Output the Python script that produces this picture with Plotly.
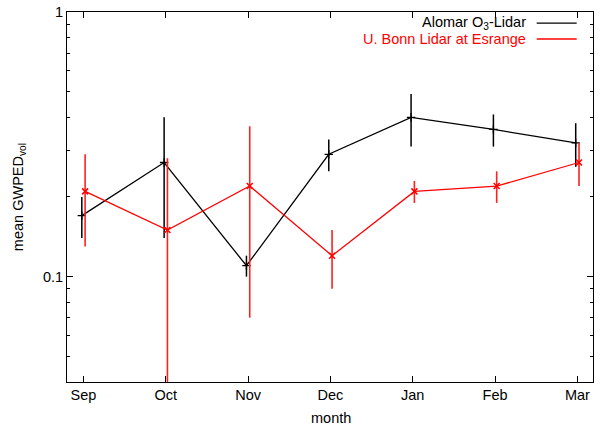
import plotly.graph_objects as go

months = ["Sep", "Oct", "Nov", "Dec", "Jan", "Feb", "Mar"]
month_idx = [0, 1, 2, 3, 4, 5, 6]

alomar_vals = [0.17, 0.27, 0.11, 0.29, 0.40, 0.36, 0.32]
alomar_err = [0.03, 0.13, 0.01, 0.04, 0.09, 0.05, 0.06]

bonn_vals = [0.21, 0.15, 0.22, 0.12, 0.21, 0.22, 0.27]
bonn_err = [0.08, 0.13, 0.15, 0.03, 0.02, 0.03, 0.05]

alomar_shift = -0.02
bonn_shift = 0.02

y_major = [0.1, 1]
y_minor = [0.05, 0.06, 0.07, 0.08, 0.09, 0.2, 0.3, 0.4, 0.5, 0.6, 0.7, 0.8, 0.9]

FONT = "Liberation Sans, Arial, Helvetica, sans-serif"
FS = 14.5

fig = go.Figure()

fig.add_trace(go.Scatter(
    x=[m + alomar_shift for m in month_idx], y=alomar_vals,
    mode="lines+markers", name="Alomar O<sub>3</sub>-Lidar",
    line=dict(color="black", width=1.3),
    marker=dict(symbol="cross-thin", size=6, line=dict(color="black", width=1.3)),
    error_y=dict(type="data", array=alomar_err, color="black", thickness=1.5, width=0),
    showlegend=False,
))
fig.add_trace(go.Scatter(
    x=[m + bonn_shift for m in month_idx], y=bonn_vals,
    mode="lines+markers", name="U. Bonn Lidar at Esrange",
    line=dict(color="#ff0000", width=1.3),
    marker=dict(symbol="x-thin", size=6, line=dict(color="#ff0000", width=1.5)),
    error_y=dict(type="data", array=bonn_err, color="#ff2020", thickness=1.6, width=0),
    showlegend=False,
))
# empty trace so the minor-tick overlay axis is drawn
fig.add_trace(go.Scatter(x=[None], y=[None], yaxis="y2", showlegend=False,
                         hoverinfo="skip"))

fig.update_layout(
    width=594, height=425,
    margin=dict(l=67, r=1, t=12, b=43),
    paper_bgcolor="white", plot_bgcolor="white",
    font=dict(family=FONT, size=FS, color="black"),
    xaxis=dict(
        range=[-0.2, 6.19], tickmode="array", tickvals=month_idx, ticktext=months,
        ticks="inside", ticklen=6, tickcolor="black", tickwidth=1,
        showline=True, linecolor="black", linewidth=1, mirror="ticks",
        showgrid=False, zeroline=False,
    ),
    yaxis=dict(
        type="log", range=[-1.398, 0],
        tickmode="array", tickvals=y_major, ticktext=["0.1", "1"],
        ticks="inside", ticklen=6, tickcolor="black", tickwidth=1,
        showline=True, linecolor="black", linewidth=1, mirror="ticks",
        showgrid=False, zeroline=False,
    ),
    yaxis2=dict(
        type="log", range=[-1.398, 0], overlaying="y", side="left",
        tickmode="array", tickvals=y_minor, ticktext=[""] * len(y_minor),
        ticks="inside", ticklen=3, tickcolor="black", tickwidth=1,
        showline=True, linecolor="black", linewidth=1, mirror="ticks",
        showgrid=False, zeroline=False, showticklabels=False,
    ),
)

# axis titles
fig.add_annotation(text="mean GWPED<sub>vol</sub>", xref="paper", yref="paper",
                   x=-0.091, y=0.5, xanchor="center", yanchor="middle",
                   textangle=-90, showarrow=False, font=dict(size=FS))
fig.add_annotation(text="month", xref="paper", yref="paper",
                   x=0.502, y=-0.097, xanchor="center", yanchor="middle",
                   showarrow=False, font=dict(size=FS))

# gnuplot-style legend: text then sample line
legend_items = [("Alomar O<sub>3</sub>-Lidar", "black", 0.970),
                ("U. Bonn Lidar at Esrange", "#ff0000", 0.927)]
for label, col, yy in legend_items:
    fig.add_annotation(text=label, xref="paper", yref="paper", x=0.876, y=yy,
                       xanchor="right", yanchor="middle", showarrow=False,
                       font=dict(size=FS, color=col))
    fig.add_shape(type="line", xref="paper", yref="paper", x0=0.893, x1=0.969,
                  y0=yy, y1=yy, line=dict(color=col, width=1.3))

fig.write_html("out.html")
